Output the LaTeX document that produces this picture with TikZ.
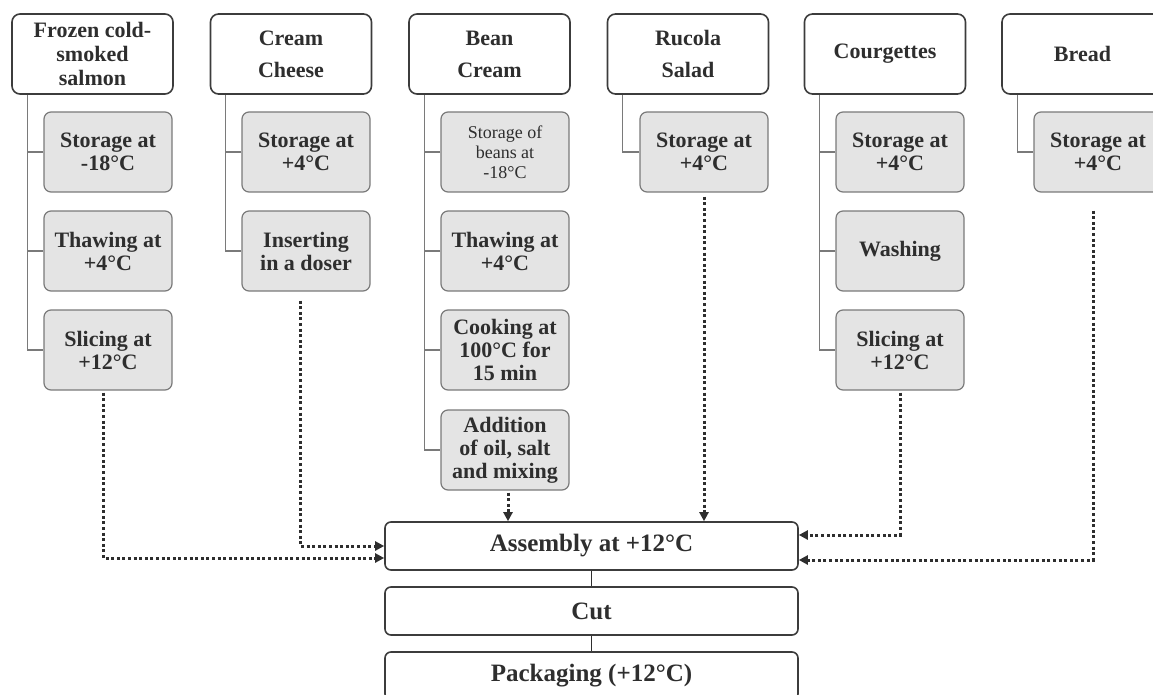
\documentclass[tikz,border=0pt]{standalone}
\usepackage{fontspec}
\setmainfont{Liberation Serif}
\usetikzlibrary{arrows.meta,calc,positioning}
\definecolor{boxline}{HTML}{3C3C3C}
\definecolor{stepline}{HTML}{7A7A7A}
\definecolor{stepfill}{HTML}{E4E4E4}
\definecolor{ink}{HTML}{2E2E2E}
\tikzset{>={Triangle[length=9pt,width=9pt]}}
\tikzset{
  ingredient/.style={draw=boxline, line width=1.6pt, rounded corners=8pt,
    fill=white, minimum width=161pt, minimum height=80pt, inner sep=2pt,
    align=center, text=ink, font=\fontsize{22}{24}\selectfont\bfseries},
  stepbox/.style={draw=stepline, line width=1.2pt, rounded corners=7pt,
    fill=stepfill, minimum width=128pt, minimum height=80pt, inner sep=2pt,
    align=center, text=ink, font=\fontsize{22}{23}\selectfont\bfseries},
  smallstep/.style={stepbox, font=\fontsize{18}{20}\selectfont},
  process/.style={draw=boxline, line width=1.6pt, rounded corners=6pt,
    fill=white, minimum width=413pt, minimum height=48pt,
    text=ink, font=\fontsize{25}{27}\selectfont\bfseries},
  tree/.style={draw=stepline, line width=1.2pt},
  flow/.style={->, draw=ink, line width=3pt, dash pattern=on 3pt off 2.6pt},
  link/.style={draw=ink, line width=0.6pt}
}

\begin{document}
\begin{tikzpicture}[x=1pt,y=-1pt]
  \useasboundingbox (0,0) rectangle (1153,695);
  \clip (0,0) rectangle (1153,695);
  % ingredients
  \node[ingredient] (salmon) at (92.5,54) {Frozen cold-\\smoked\\salmon};
  \node[ingredient] (cheese) at (291,54) {Cream\\[8pt]Cheese};
  \node[ingredient] (bean)   at (489.5,54) {Bean\\[8pt]Cream};
  \node[ingredient] (rucola) at (688,54) {Rucola\\[8pt]Salad};
  \node[ingredient] (courg)  at (885,54) {Courgettes};
  \node[ingredient] (bread)  at (1082.5,54) {Bread};
  % salmon steps
  \node[stepbox] (salmon1) at (108,152) {Storage at\\-18°C};
  \node[stepbox] (salmon2) at (108,251) {Thawing at\\+4°C};
  \node[stepbox] (salmon3) at (108,350) {Slicing at\\+12°C};
  % cheese steps
  \node[stepbox] (cheese1) at (306,152) {Storage at\\+4°C};
  \node[stepbox] (cheese2) at (306,251) {Inserting\\in a doser};
  % bean steps
  \node[smallstep] (bean1) at (505,152) {Storage of\\beans at\\-18°C};
  \node[stepbox] (bean2) at (505,251) {Thawing at\\+4°C};
  \node[stepbox] (bean3) at (505,350) {Cooking at\\100°C for\\15 min};
  \node[stepbox] (bean4) at (505,450) {Addition\\of oil, salt\\and mixing};
  % rucola, courgettes, bread steps
  \node[stepbox] (rucola1) at (704,152) {Storage at\\+4°C};
  \node[stepbox] (courg1) at (900,152) {Storage at\\+4°C};
  \node[stepbox] (courg2) at (900,251) {Washing};
  \node[stepbox] (courg3) at (900,350) {Slicing at\\+12°C};
  \node[stepbox] (bread1) at (1098,152) {Storage at\\+4°C};
  % tree lines
  \coordinate (salmonT) at ([xshift=16]salmon.south west);
  \draw[tree] (salmonT) |- (salmon3.west);
  \foreach \s in {salmon1,salmon2} \draw[tree] (\s.west) -- (\s.west -| salmonT);
  \coordinate (cheeseT) at ([xshift=16]cheese.south west);
  \draw[tree] (cheeseT) |- (cheese2.west);
  \draw[tree] (cheese1.west) -- (cheese1.west -| cheeseT);
  \coordinate (beanT) at ([xshift=16]bean.south west);
  \draw[tree] (beanT) |- (bean4.west);
  \foreach \s in {bean1,bean2,bean3} \draw[tree] (\s.west) -- (\s.west -| beanT);
  \coordinate (rucolaT) at ([xshift=16]rucola.south west);
  \draw[tree] (rucolaT) |- (rucola1.west);
  \coordinate (courgT) at ([xshift=16]courg.south west);
  \draw[tree] (courgT) |- (courg3.west);
  \foreach \s in {courg1,courg2} \draw[tree] (\s.west) -- (\s.west -| courgT);
  \coordinate (breadT) at ([xshift=16]bread.south west);
  \draw[tree] (breadT) |- (bread1.west);
  % final line
  \node[process] (assembly) at (591.5,546) {Assembly at +12°C};
  \node[process] (cut)      at (591.5,611) {Cut};
  \node[process] (pack)     at (591.5,676) {Packaging (+12°C)};
  \draw[link] (assembly.south) -- (cut.north);
  \draw[link] (cut.south) -- (pack.north);
  % flows into assembly
  \draw[flow] ([xshift=-5,yshift=-2]salmon3.south) |- ([yshift=-12]assembly.west);
  \draw[flow] ([xshift=-6,yshift=-9]cheese2.south) |- (assembly.west);
  \draw[flow] ([xshift=3,yshift=-2]bean4.south) -- ([xshift=3]bean4.south |- assembly.north);
  \draw[flow] ([yshift=-4]rucola1.south) -- (rucola1.south |- assembly.north);
  \draw[flow] ([yshift=-2]courg3.south) |- ([yshift=11]assembly.east);
  \draw[flow] ([xshift=-5,yshift=-18]bread1.south) |- ([yshift=-14]assembly.east);
\end{tikzpicture}
\end{document}
